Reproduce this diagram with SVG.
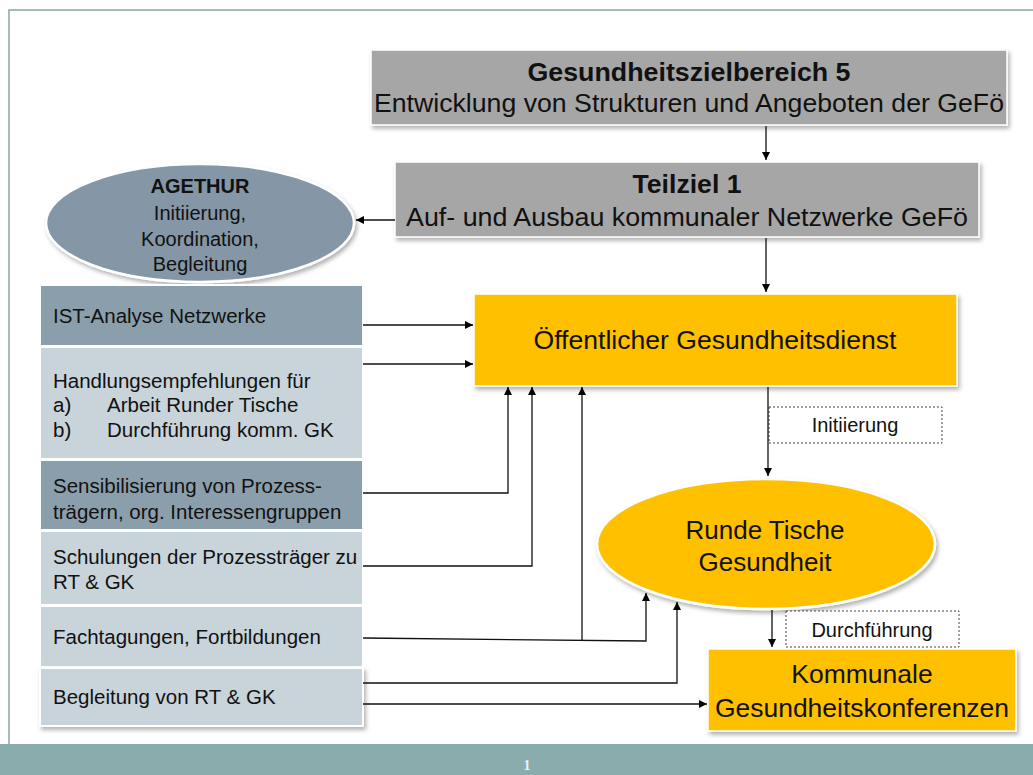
<svg xmlns="http://www.w3.org/2000/svg" width="1033" height="775" viewBox="0 0 1033 775">
<defs>
<filter id="sh" x="-10%" y="-10%" width="125%" height="130%">
<feDropShadow dx="2" dy="3" stdDeviation="2" flood-color="#000" flood-opacity="0.3"/>
</filter>
<marker id="ah" viewBox="0 0 10 10" refX="10" refY="5" markerWidth="8" markerHeight="8" markerUnits="userSpaceOnUse" orient="auto">
<path d="M0,0 L10,5 L0,10 z" fill="#000"/>
</marker>
<style>
text{font-family:"Liberation Sans",Arial,sans-serif;fill:#111;}
.grey{fill:#a6a6a6;stroke:#fff;stroke-width:1.5;}
.yel{fill:#ffc000;stroke:#fff;stroke-width:1.5;}
.dark{fill:#8b9eab;stroke:#fff;stroke-width:2;}
.light{fill:#c8d3da;stroke:#fff;stroke-width:2;}
.t{font-size:20.5px;}
.c{text-anchor:middle;}
.b{font-weight:bold;}
.con path,.con line{fill:none;stroke:#111;stroke-width:1.3;}
.dash{fill:#fff;stroke:#444;stroke-width:1;stroke-dasharray:2,2;}
</style>
</defs>
<rect x="0" y="0" width="1033" height="775" fill="#fff"/>
<path d="M9,745 V10 H1033" fill="none" stroke="#8aa7a4" stroke-width="1.5"/>
<rect x="0" y="744" width="1033" height="31" fill="#8aacac"/>
<text x="527" y="770" class="c" style="font-family:'Liberation Serif',serif;font-size:14px;fill:#eef;font-weight:bold">1</text>

<g id="zielbereich">
<rect x="371" y="50" width="636" height="75" class="grey" filter="url(#sh)"/>
<text x="689" y="81" class="c b" style="font-size:26px" textLength="323" lengthAdjust="spacingAndGlyphs">Gesundheitszielbereich 5</text>
<text x="689" y="112" class="c" style="font-size:25px" textLength="630" lengthAdjust="spacingAndGlyphs">Entwicklung von Strukturen und Angeboten der GeFö</text>
</g>

<g id="teilziel">
<rect x="395" y="162" width="584" height="75" class="grey" filter="url(#sh)"/>
<text x="687" y="193" class="c b" style="font-size:26px" textLength="109" lengthAdjust="spacingAndGlyphs">Teilziel 1</text>
<text x="687" y="226" class="c" style="font-size:25px" textLength="562" lengthAdjust="spacingAndGlyphs">Auf- und Ausbau kommunaler Netzwerke GeFö</text>
</g>

<g id="agethur">
<ellipse cx="200" cy="223" rx="154" ry="59" fill="#8597a6" stroke="#fff" stroke-width="2.5" filter="url(#sh)"/>
<text x="200" y="193" class="c b" style="font-size:20px">AGETHUR</text>
<text x="200" y="220" class="c" style="font-size:20px">Initiierung,</text>
<text x="200" y="246" class="c" style="font-size:20px">Koordination,</text>
<text x="200" y="271" class="c" style="font-size:20px">Begleitung</text>
</g>

<g id="oegd">
<rect x="474" y="294" width="483" height="92" class="yel" filter="url(#sh)"/>
<text x="715" y="349" class="c" style="font-size:26px" textLength="363" lengthAdjust="spacingAndGlyphs">Öffentlicher Gesundheitsdienst</text>
</g>

<g id="ist">
<rect x="40" y="285" width="323" height="61" class="dark"/>
<text x="53" y="323" class="t">IST-Analyse Netzwerke</text>
</g>
<g id="handlung">
<rect x="40" y="347" width="323" height="112" class="light"/>
<text x="53" y="388" class="t">Handlungsempfehlungen für</text>
<text x="53" y="412" class="t">a)</text><text x="107" y="412" class="t">Arbeit Runder Tische</text>
<text x="53" y="437" class="t">b)</text><text x="107" y="437" class="t">Durchführung komm. GK</text>
</g>
<g id="sensibilisierung">
<rect x="40" y="460" width="323" height="70" class="dark"/>
<text x="53" y="493" class="t">Sensibilisierung von Prozess-</text>
<text x="53" y="519" class="t">trägern, org. Interessengruppen</text>
</g>
<g id="schulungen">
<rect x="40" y="531" width="323" height="74" class="light"/>
<text x="53" y="564" class="t">Schulungen der Prozessträger zu</text>
<text x="53" y="589" class="t">RT &amp; GK</text>
</g>
<g id="fachtagungen">
<rect x="40" y="606" width="323" height="61" class="light"/>
<text x="53" y="644" class="t">Fachtagungen, Fortbildungen</text>
</g>
<g id="begleitung">
<rect x="40" y="668" width="323" height="58" class="light" filter="url(#sh)"/>
<text x="53" y="704" class="t">Begleitung von RT &amp; GK</text>
</g>

<g id="rundetische">
<ellipse cx="766" cy="544" rx="169" ry="65" fill="#ffc000" stroke="#fff" stroke-width="2.5" filter="url(#sh)"/>
<text x="765" y="539" class="c" style="font-size:26px">Runde Tische</text>
<text x="765" y="571" class="c" style="font-size:26px">Gesundheit</text>
</g>

<g id="kommunale">
<rect x="708" y="649" width="308" height="82" class="yel" filter="url(#sh)"/>
<text x="862" y="683" class="c" style="font-size:26.5px">Kommunale</text>
<text x="862" y="717" class="c" style="font-size:26.5px" textLength="294" lengthAdjust="spacingAndGlyphs">Gesundheitskonferenzen</text>
</g>

<g id="label-initiierung">
<rect x="769" y="407" width="173" height="36" class="dash"/>
<text x="855" y="432" class="c" style="font-size:20px">Initiierung</text>
</g>
<g id="label-durchfuehrung">
<rect x="786" y="611" width="173" height="36" class="dash"/>
<text x="872" y="637" class="c" style="font-size:20px">Durchführung</text>
</g>

<g class="con" id="connectors">
<line x1="766" y1="126" x2="766" y2="160" marker-end="url(#ah)"/>
<line x1="395" y1="220" x2="356" y2="220" marker-end="url(#ah)"/>
<line x1="766" y1="238" x2="766" y2="292" marker-end="url(#ah)"/>
<line x1="363" y1="325" x2="473" y2="325" marker-end="url(#ah)"/>
<line x1="363" y1="364" x2="473" y2="364" marker-end="url(#ah)"/>
<path d="M363,493 H508 V387" marker-end="url(#ah)"/>
<path d="M363,566 H532 V387" marker-end="url(#ah)"/>
<path d="M363,638 L646,641 V593" marker-end="url(#ah)"/>
<line x1="582" y1="640" x2="582" y2="387" marker-end="url(#ah)"/>
<path d="M363,683 H677 V602" marker-end="url(#ah)"/>
<line x1="363" y1="704" x2="707" y2="704" marker-end="url(#ah)"/>
<line x1="768" y1="387" x2="768" y2="476" marker-end="url(#ah)"/>
<line x1="772" y1="610" x2="772" y2="647" marker-end="url(#ah)"/>
</g>
</svg>
